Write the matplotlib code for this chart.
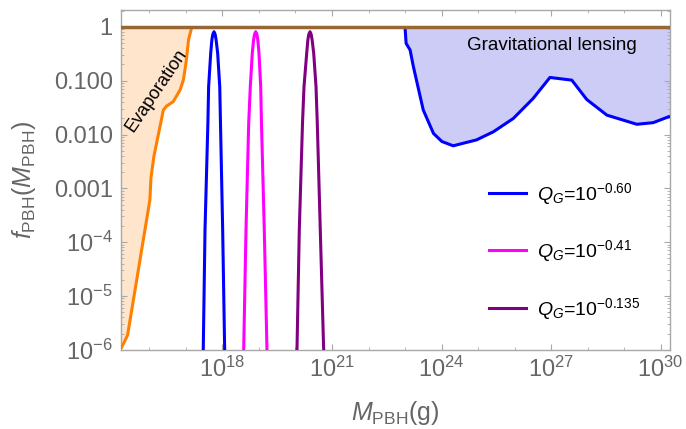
import numpy as np
import matplotlib
matplotlib.use("Agg")
import matplotlib.pyplot as plt
from matplotlib.lines import Line2D
from matplotlib.ticker import FixedLocator, NullFormatter

plt.rcParams["font.family"] = ["Liberation Sans", "DejaVu Sans"]
plt.rcParams["mathtext.fontset"] = "custom"
plt.rcParams["mathtext.rm"] = "Liberation Sans"
plt.rcParams["mathtext.it"] = "Liberation Sans:italic"
plt.rcParams["mathtext.bf"] = "Liberation Sans:bold"

# ---- data (log10 of mass in grams, log10 of f_PBH) ----
# Hawking evaporation bound
evap_logM = [15.22, 15.40, 16.01, 16.04, 16.12, 16.38, 16.47, 16.65,
             16.84, 16.93, 17.00, 17.07, 17.16]
evap_logf = [-5.98, -5.73, -3.22, -2.81, -2.41, -1.545, -1.47, -1.39,
             -1.17, -0.98, -0.67, -0.24, 0.0]

# microlensing bound
lens_logM = [23.00, 23.03, 23.14, 23.23, 23.50, 23.78, 24.01, 24.32, 24.96,
             25.42, 25.97, 26.51, 26.97, 27.57, 27.98, 28.53, 29.35, 29.80, 30.26]
lens_logf = [0.0, -0.305, -0.43, -0.74, -1.545, -1.98, -2.13, -2.21, -2.10,
             -1.95, -1.70, -1.33, -0.94, -0.99, -1.35, -1.64, -1.81, -1.78, -1.66]

# PBH mass functions for three values of Q_G
peak_logf = [-6.1, -3.775, -1.786, -1.111, -0.491, -0.24, -0.14, -0.089,
             -0.14, -0.24, -0.491, -1.111, -1.786, -3.775, -6.1]
qg_a_logM = [17.471, 17.521, 17.600, 17.620, 17.677, 17.709, 17.734, 17.767,
             17.800, 17.825, 17.868, 17.925, 17.945, 18.005, 18.062]
qg_b_logM = [18.578, 18.644, 18.718, 18.762, 18.816, 18.852, 18.877, 18.910,
             18.943, 18.968, 19.000, 19.047, 19.068, 19.145, 19.222]
qg_c_logM = [20.038, 20.104, 20.192, 20.233, 20.307, 20.339, 20.364, 20.397,
             20.430, 20.455, 20.499, 20.562, 20.597, 20.679, 20.776]

qg_labels = [r"$Q_G$=10$^{-0.60}$", r"$Q_G$=10$^{-0.41}$", r"$Q_G$=10$^{-0.135}$"]
qg_colors = ["#0000ff", "#ff00ff", "#800080"]

# axis ranges and ticks
xlim_log = (15.22, 30.26)
ylim_log = (-6.0, 0.314)
x_major = [1e18, 1e21, 1e24, 1e27, 1e30]
x_major_labels = [r"$10^{18}$", r"$10^{21}$", r"$10^{24}$", r"$10^{27}$", r"$10^{30}$"]
x_minor = [1e16, 1e17, 1e19, 1e20, 1e22, 1e23, 1e25, 1e26, 1e28, 1e29]
y_major = [1e-6, 1e-5, 1e-4, 1e-3, 1e-2, 1e-1, 1.0]
y_major_labels = [r"$10^{-6}$", r"$10^{-5}$", r"$10^{-4}$", "0.001", "0.010", "0.100", "1"]

GRAY_TXT = "#666666"
GRAY_AX = "#a8a8a8"

fig = plt.figure(figsize=(6.86, 4.29), dpi=100)
ax = fig.add_axes([0.1764, 0.1848, 0.8003, 0.7919])
ax.set_xscale("log")
ax.set_yscale("log")
ax.set_xlim(10 ** xlim_log[0], 10 ** xlim_log[1])
ax.set_ylim(10 ** ylim_log[0], 10 ** ylim_log[1])

xmin = 10 ** xlim_log[0]
evap_M = 10 ** np.array(evap_logM)
evap_f = 10 ** np.array(evap_logf)
ax.fill_betweenx(evap_f, xmin, evap_M, color="#ffe5cc", lw=0, zorder=1)
ax.plot(evap_M, evap_f, color="#ff8000", lw=2.2, zorder=3, solid_capstyle="butt")

lens_M = 10 ** np.array(lens_logM)
lens_f = 10 ** np.array(lens_logf)
ax.fill_between(lens_M, lens_f, 1.0, color="#ccccf7", lw=0, zorder=1)
ax.plot(lens_M, lens_f, color="#0000ff", lw=2.2, zorder=3, solid_capstyle="butt")

pf = 10 ** np.array(peak_logf)
for logM, c in zip([qg_a_logM, qg_b_logM, qg_c_logM], qg_colors):
    ax.plot(10 ** np.array(logM), pf, color=c, lw=2.2, zorder=3)

ax.axhline(1.0, color="#996633", lw=2.5, zorder=4)

ax.text(10 ** 16.197, 10 ** -1.173, "Evaporation", rotation=56, fontsize=13,
        ha="center", va="center", color="black", zorder=5)
ax.text(10 ** 27.03, 10 ** -0.349, "Gravitational lensing", fontsize=13.5,
        ha="center", va="center", color="black", zorder=5)

# ticks
ax.xaxis.set_major_locator(FixedLocator(x_major))
ax.set_xticklabels(x_major_labels)
ax.xaxis.set_minor_locator(FixedLocator(x_minor))
ax.xaxis.set_minor_formatter(NullFormatter())
ax.yaxis.set_major_locator(FixedLocator(y_major))
ax.set_yticklabels(y_major_labels)
ax.tick_params(which="both", direction="in", top=True, right=True,
               color=GRAY_AX, labelcolor=GRAY_TXT, labelsize=17)
ax.tick_params(which="major", length=4.5, width=0.8)
ax.tick_params(which="minor", length=2.5, width=0.6)
ax.tick_params(axis="x", pad=5)
ax.tick_params(axis="y", pad=6)
for s in ax.spines.values():
    s.set_color(GRAY_AX)
    s.set_linewidth(1.0)

ax.set_xlabel(r"$M_{\rm PBH}$(g)", fontsize=18, color=GRAY_TXT)
ax.xaxis.set_label_coords(0.5, -0.145)
ax.set_ylabel(r"$f_{\rm PBH}(M_{\rm PBH})$", fontsize=18, color=GRAY_TXT)
ax.yaxis.set_label_coords(-0.151, 0.5)

handles = [Line2D([], [], color=c, lw=2.2) for c in qg_colors]
ax.legend(handles, qg_labels, loc="upper left", bbox_to_anchor=(0.670, 0.497),
          frameon=False, fontsize=14, handlelength=1.9, handletextpad=0.57,
          labelspacing=1.62, borderpad=0, borderaxespad=0)

fig.savefig("out.png", dpi=100)
